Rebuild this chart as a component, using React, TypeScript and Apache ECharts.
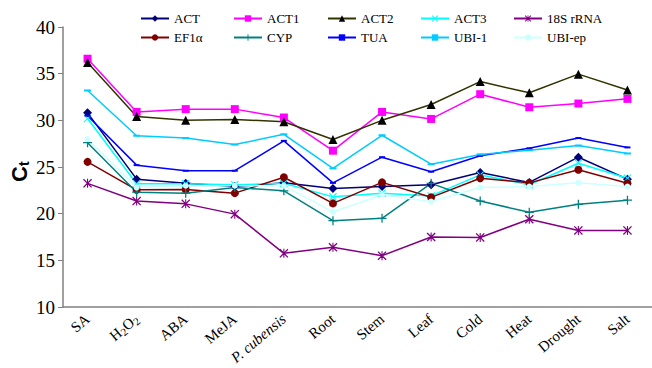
import React, { useEffect, useRef } from "react";
import * as echarts from "echarts";

const categories = ["SA", "H2O2", "ABA", "MeJA", "P. cubensis", "Root", "Stem", "Leaf", "Cold", "Heat", "Drought", "Salt"];
const yTicks = [10, 15, 20, 25, 30, 35, 40];

const ACT = [30.8, 23.7, 23.25, 22.9, 23.3, 22.7, 22.9, 23.1, 24.4, 23.35, 26.05, 23.7];
const ACT1 = [36.6, 30.9, 31.2, 31.2, 30.3, 26.75, 30.9, 30.15, 32.8, 31.4, 31.8, 32.3];
const ACT2 = [36.2, 30.4, 30.0, 30.1, 29.85, 27.95, 30.0, 31.7, 34.15, 32.95, 34.95, 33.25];
const ACT3 = [30.2, 23.2, 23.2, 23.1, 23.25, 21.8, 22.2, 21.9, 24.15, 23.1, 25.4, 23.8];
const RRNA18S = [23.25, 21.35, 21.05, 19.95, 15.75, 16.4, 15.5, 17.5, 17.45, 19.4, 18.2, 18.2];
const EF1a = [25.55, 22.55, 22.6, 22.2, 23.9, 21.1, 23.35, 21.75, 23.8, 23.3, 24.7, 23.25];
const CYP = [27.6, 22.3, 22.2, 22.8, 22.45, 19.25, 19.5, 23.25, 21.35, 20.15, 21.0, 21.45];
const TUA = [30.5, 25.2, 24.6, 24.6, 27.8, 23.3, 26.05, 24.5, 26.2, 27.0, 28.1, 27.1];
const UBI1 = [33.2, 28.35, 28.1, 27.4, 28.5, 24.85, 28.4, 25.3, 26.35, 26.8, 27.3, 26.45];
const UBIep = [28.0, 22.8, 23.0, 23.0, 23.0, 20.2, 22.0, 21.3, 22.8, 22.9, 23.3, 22.9];

const PLUS = "path://M4.3,0h1.4v4.3h4.3v1.4h-4.3v4.3h-1.4v-4.3h-4.3v-1.4h4.3z";
const CROSS = "path://M1,0L5,4L9,0L10,1L6,5L10,9L9,10L5,6L1,10L0,9L4,5L0,1z";
const STAR = "path://M1,0L5,4L9,0L10,1L6,5L10,9L9,10L5,6L1,10L0,9L4,5L0,1zM4.4,0h1.2v10h-1.2z";

const seriesDefs = [
  { name: "ACT", data: ACT, color: "#00007a", symbol: "diamond", size: 9 },
  { name: "ACT1", data: ACT1, color: "#ff00ff", symbol: "rect", size: 8 },
  { name: "ACT2", data: ACT2, color: "#333300", symbol: "triangle", size: 9, symColor: "#000000" },
  { name: "ACT3", data: ACT3, color: "#00ffff", symbol: CROSS, size: 8 },
  { name: "18S rRNA", data: RRNA18S, color: "#800080", symbol: STAR, size: 9 },
  { name: "EF1α", data: EF1a, color: "#800000", symbol: "circle", size: 8 },
  { name: "CYP", data: CYP, color: "#008080", symbol: PLUS, size: 9 },
  { name: "TUA", data: TUA, color: "#0000ff", symbol: "rect", size: [6, 2] },
  { name: "UBI-1", data: UBI1, color: "#00ccff", symbol: "rect", size: [7, 2] },
  { name: "UBI-ep", data: UBIep, color: "#ccffff", symbol: "circle", size: 6 },
];

const serif = "Liberation Serif";
const sans = "Liberation Sans";

export default function App() {
  const ref = useRef<HTMLDivElement>(null);
  useEffect(() => {
    document.body.style.margin = "0";
    if (!ref.current) return;
    const chart = echarts.init(ref.current, null, { renderer: "svg" });
    const legendCols = [140, 233, 327, 420, 513];
    const legends = seriesDefs.map((s, i) => ({
      data: [s.name],
      left: legendCols[i % 5],
      top: i < 5 ? 12 : 31,
      itemWidth: 28,
      itemHeight: 8,
      itemGap: 4,
      padding: 0,
      formatter: (n: string) => "{a|" + n + "}",
      textStyle: {
        fontFamily: serif,
        fontSize: 13,
        color: "#000",
        rich: { a: { fontFamily: serif, fontSize: 13, color: "#000" } },
      },
    }));
    chart.setOption({
      animation: false,
      backgroundColor: "#ffffff",
      textStyle: { fontFamily: serif },
      legend: legends,
      grid: { left: 63, right: -3, top: 27, bottom: 61 },
      xAxis: {
        type: "category",
        data: categories,
        boundaryGap: true,
        axisLine: { lineStyle: { color: "#808080", width: 1.5 } },
        axisTick: { inside: true, length: 4, lineStyle: { color: "#808080" } },
        axisLabel: {
          rotate: 40,
          interval: 0,
          margin: 10,
          color: "#000",
          fontFamily: serif,
          fontSize: 15,
          formatter: (v: string) => {
            if (v === "H2O2") return "{a|H}{s|2}{a|O}{s|2}";
            if (v === "P. cubensis") return "{i|" + v + "}";
            return "{a|" + v + "}";
          },
          rich: {
            a: { fontFamily: serif, fontSize: 15, color: "#000" },
            s: { fontFamily: serif, fontSize: 11, color: "#000", verticalAlign: "bottom", padding: [6, 0, 0, 0] },
            i: { fontFamily: serif, fontSize: 15, color: "#000", fontStyle: "italic" },
          },
        },
      },
      yAxis: {
        type: "value",
        min: yTicks[0],
        max: yTicks[yTicks.length - 1],
        interval: 5,
        splitLine: { show: false },
        axisLine: { show: true, lineStyle: { color: "#808080", width: 1.5 } },
        axisTick: { show: true, length: 5, lineStyle: { color: "#808080" } },
        axisLabel: {
          color: "#000",
          fontFamily: serif,
          fontSize: 19,
          margin: 8,
          formatter: (v: number) => "{n|" + v + "}",
          rich: { n: { fontFamily: serif, fontSize: 19, color: "#000" } },
        },
      },
      graphic: [
        {
          type: "text",
          x: 8,
          y: 182,
          rotation: Math.PI / 2,
          style: {
            text: "{c|C}{t|t}",
            rich: {
              c: { fontFamily: sans, fontWeight: "bold", fontSize: 22, fill: "#000" },
              t: { fontFamily: sans, fontWeight: "bold", fontSize: 15, fill: "#000", padding: [8, 0, 0, 0] },
            },
          },
        },
      ],
      series: seriesDefs.map((s) => ({
        name: s.name,
        type: "line",
        data: s.data,
        symbol: s.symbol,
        symbolSize: s.size,
        showAllSymbol: true,
        lineStyle: { color: s.color, width: 1.5 },
        itemStyle: { color: (s as any).symColor || s.color },
        emphasis: { disabled: true },
      })),
    });
    return () => chart.dispose();
  }, []);
  return <div ref={ref} style={{ width: 652, height: 368 }} />;
}
